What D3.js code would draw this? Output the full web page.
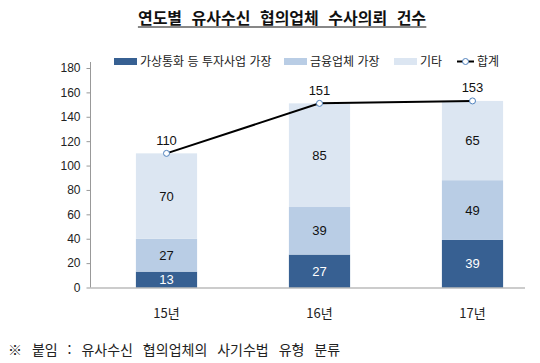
<!DOCTYPE html>
<html lang="ko">
<head>
  <meta charset="UTF-8" />
  <title>연도별 유사수신 협의업체 수사의뢰 건수</title>
  <style>
    body { margin: 0; background: #fff; font-family: "Noto Sans CJK KR", "Noto Sans", sans-serif; }
    svg { display: block; }
  </style>
</head>
<body>
  <div id="chart"></div>

  <script src="https://d3js.org/d3.v7.min.js"></script>
  <script>
    const years = ["15년", "16년", "17년"];
    const virtualCurrency = [13, 27, 39];
    const financial = [27, 39, 49];
    const others = [70, 85, 65];
    const totals = [110, 151, 153];
    const seriesNames = ["가상통화 등 투자사업 가장", "금융업체 가장", "기타"];
    const totalName = "합계";
    const yTicks = [0, 20, 40, 60, 80, 100, 120, 140, 160, 180];

    const width = 540, height = 363;
    const colors = ["#376092", "#b9cde5", "#dce6f2"];

    const svg = d3.select("#chart").append("svg")
      .attr("width", width).attr("height", height);

    // title
    const title = svg.append("text")
      .attr("x", 282).attr("y", 24)
      .attr("text-anchor", "middle")
      .attr("font-size", 16).attr("font-weight", "bold")
      .attr("word-spacing", 5)
      .attr("fill", "#111")
      .text("연도별 유사수신 협의업체 수사의뢰 건수");
    const tb = title.node().getBBox();
    svg.append("line")
      .attr("x1", tb.x).attr("x2", tb.x + tb.width)
      .attr("y1", 27).attr("y2", 27)
      .attr("stroke", "#111").attr("stroke-width", 1.2);

    const x = d3.scaleBand().domain(years).range([90, 549]).paddingInner(0.6).paddingOuter(0.3);
    const y = d3.scaleLinear().domain([0, 180]).range([287.5, 68]);

    // y axis
    const yAxis = svg.append("g")
      .attr("transform", "translate(90.5,0)")
      .call(d3.axisLeft(y).tickValues(yTicks).tickSize(4).tickPadding(6));
    yAxis.select(".domain").attr("stroke", "#999").attr("d", `M0,${y(180) - 6}V${y(0)}`);
    yAxis.selectAll(".tick line").attr("stroke", "#999");
    yAxis.selectAll(".tick text")
      .attr("font-size", 12).attr("fill", "#222")
      .attr("font-family", "'Liberation Sans', Arial, sans-serif");

    // stacked data
    const rows = years.map((yr, i) => ({ year: yr, a: virtualCurrency[i], b: financial[i], c: others[i] }));
    const stack = d3.stack().keys(["a", "b", "c"])(rows);

    const layers = svg.append("g").selectAll("g")
      .data(stack).join("g")
      .attr("fill", (d, i) => colors[i]);

    layers.selectAll("rect")
      .data(d => d).join("rect")
      .attr("x", d => x(d.data.year))
      .attr("width", x.bandwidth())
      .attr("y", d => y(d[1]))
      .attr("height", d => y(d[0]) - y(d[1]));

    layers.each(function (layer, li) {
      d3.select(this).selectAll("text.seg")
        .data(layer).join("text")
        .attr("class", "seg")
        .attr("x", d => x(d.data.year) + x.bandwidth() / 2)
        .attr("y", d => (y(d[0]) + y(d[1])) / 2)
        .attr("dy", "0.36em")
        .attr("text-anchor", "middle")
        .attr("font-size", 13)
        .attr("font-family", "'Liberation Sans', Arial, sans-serif")
        .attr("fill", li === 0 ? "#fff" : "#111")
        .text(d => d[1] - d[0]);
    });

    // x axis
    svg.append("line")
      .attr("x1", 90.5).attr("x2", 525)
      .attr("y1", y(0) + 0.5).attr("y2", y(0) + 0.5)
      .attr("stroke", "#999");

    svg.append("g").selectAll("text")
      .data(years).join("text")
      .attr("x", d => x(d) + x.bandwidth() / 2)
      .attr("y", 313)
      .attr("dy", "0.35em")
      .attr("text-anchor", "middle")
      .attr("font-size", 13).attr("fill", "#222")
      .text(d => d);

    // total line
    const line = d3.line()
      .x((d, i) => x(years[i]) + x.bandwidth() / 2)
      .y(d => y(d));
    svg.append("path")
      .datum(totals)
      .attr("d", line)
      .attr("fill", "none").attr("stroke", "#000").attr("stroke-width", 2);
    svg.append("g").selectAll("circle")
      .data(totals).join("circle")
      .attr("cx", (d, i) => x(years[i]) + x.bandwidth() / 2)
      .attr("cy", d => y(d))
      .attr("r", 3)
      .attr("fill", "#fff").attr("stroke", "#4f81bd").attr("stroke-width", 1);
    svg.append("g").selectAll("text")
      .data(totals).join("text")
      .attr("x", (d, i) => x(years[i]) + x.bandwidth() / 2)
      .attr("y", d => y(d) - 13)
      .attr("dy", "0.35em")
      .attr("text-anchor", "middle")
      .attr("font-size", 13)
      .attr("font-family", "'Liberation Sans', Arial, sans-serif")
      .attr("fill", "#111")
      .text(d => d);

    // legend
    const legend = svg.append("g").attr("font-size", 12).attr("fill", "#222");
    const swX = [114, 284, 394];
    seriesNames.forEach((name, i) => {
      legend.append("rect")
        .attr("x", swX[i]).attr("y", 58).attr("width", 23).attr("height", 7)
        .attr("fill", colors[i]);
      legend.append("text")
        .attr("x", swX[i] + 26).attr("y", 62).attr("dy", "0.35em")
        .text(name);
    });
    legend.append("line")
      .attr("x1", 457).attr("x2", 474).attr("y1", 61.5).attr("y2", 61.5)
      .attr("stroke", "#000").attr("stroke-width", 2);
    legend.append("circle")
      .attr("cx", 465.5).attr("cy", 61.5).attr("r", 3)
      .attr("fill", "#fff").attr("stroke", "#4f81bd");
    legend.append("text")
      .attr("x", 477).attr("y", 62).attr("dy", "0.35em")
      .text(totalName);

    // footnote
    svg.append("text")
      .attr("x", 8).attr("y", 350).attr("dy", "0.35em")
      .attr("font-size", 14).attr("fill", "#222")
      .attr("word-spacing", 6)
      .text("※ 붙임 : 유사수신 협의업체의 사기수법 유형 분류");
  </script>
</body>
</html>
